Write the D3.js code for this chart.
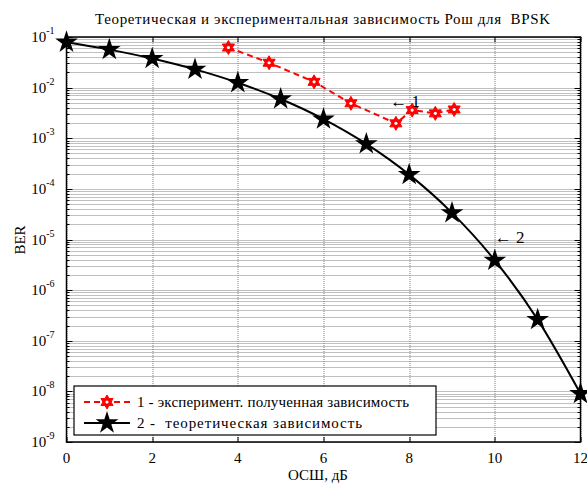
<!DOCTYPE html>
<html>
<head>
<meta charset="utf-8">
<script src="https://cdn.jsdelivr.net/npm/d3@7"></script>
<style>
  body { margin: 0; background: #fff; }
  text { font-family: "Liberation Serif", "Times New Roman", serif; fill: #000; white-space: pre; }
</style>
</head>
<body>
<svg id="chart" width="587" height="483"></svg>
<script>
// Data
const snrTheory = [0, 1, 2, 3, 4, 5, 6, 7, 8, 9, 10, 11, 12];
const berTheory = [7.86e-2, 5.63e-2, 3.75e-2, 2.29e-2, 1.25e-2, 5.95e-3, 2.39e-3,
                   7.73e-4, 1.91e-4, 3.36e-5, 3.87e-6, 2.61e-7, 9.0e-9];
const snrExp = [3.78, 4.73, 5.78, 6.64, 7.69, 8.07, 8.61, 9.05];
const berExp = [6.2e-2, 3.1e-2, 1.3e-2, 4.9e-3, 1.97e-3, 3.6e-3, 3.1e-3, 3.7e-3];
const xTicks = [0, 2, 4, 6, 8, 10, 12];
const yDecades = [-9, -8, -7, -6, -5, -4, -3, -2, -1];
const legendLabels = ['1 - эксперимент. полученная зависимость', '2 -  теоретическая зависимость'];

const svg = d3.select('#chart');
const margin = { top: 37, left: 66.5, right: 6.5, bottom: 41 };
const width = 587 - margin.left - margin.right;
const height = 483 - margin.top - margin.bottom;

const x = d3.scaleLinear().domain([0, 12]).range([0, width]);
const y = d3.scaleLog().domain([1e-9, 1e-1]).range([height, 0]);

const g = svg.append('g').attr('transform', `translate(${margin.left},${margin.top})`);

// minor values for log grid
const minorVals = [];
yDecades.forEach(e => {
  if (e === -1) return;
  for (let k = 2; k <= 9; k++) minorVals.push(k * Math.pow(10, e));
});
const majorVals = yDecades.map(e => Math.pow(10, e));

// Grid
const grid = g.append('g').attr('stroke', '#808080').attr('stroke-width', 1).attr('stroke-dasharray', '1,1');
grid.selectAll('line.hy').data(minorVals.concat(majorVals)).join('line')
  .attr('x1', 0).attr('x2', width)
  .attr('y1', d => Math.round(y(d)) + 0.5).attr('y2', d => Math.round(y(d)) + 0.5);
grid.selectAll('line.vx').data(xTicks).join('line')
  .attr('y1', 0).attr('y2', height)
  .attr('x1', d => Math.round(x(d)) + 0.5).attr('x2', d => Math.round(x(d)) + 0.5);

// Ticks (inside, on all four sides)
const tk = g.append('g').attr('stroke', '#000').attr('stroke-width', 1);
xTicks.forEach(v => {
  const px = Math.round(x(v)) + 0.5;
  tk.append('line').attr('x1', px).attr('x2', px).attr('y1', height).attr('y2', height - 5);
  tk.append('line').attr('x1', px).attr('x2', px).attr('y1', 0).attr('y2', 5);
});
majorVals.forEach(v => {
  const py = Math.round(y(v)) + 0.5;
  tk.append('line').attr('x1', 0).attr('x2', 6).attr('y1', py).attr('y2', py);
  tk.append('line').attr('x1', width).attr('x2', width - 6).attr('y1', py).attr('y2', py);
});
minorVals.forEach(v => {
  const py = Math.round(y(v)) + 0.5;
  tk.append('line').attr('x1', 0).attr('x2', 3).attr('y1', py).attr('y2', py);
  tk.append('line').attr('x1', width).attr('x2', width - 3).attr('y1', py).attr('y2', py);
});

// Frame
g.append('rect').attr('x', 0).attr('y', 0).attr('width', width).attr('height', height)
  .attr('fill', 'none').attr('stroke', '#000').attr('stroke-width', 1.5);

// X tick labels
g.append('g').selectAll('text').data(xTicks).join('text')
  .attr('x', d => x(d)).attr('y', height + 21)
  .attr('text-anchor', 'middle').style('font-size', '15px')
  .text(d => d);

// Y tick labels with superscript
const yl = g.append('g').selectAll('text').data(yDecades).join('text')
  .attr('x', -12).attr('y', d => y(Math.pow(10, d)) + 5)
  .attr('text-anchor', 'end').style('font-size', '15px');
yl.append('tspan').text('10');
yl.append('tspan').attr('dy', -8).style('font-size', '10px').text(d => d);

// Title and axis labels
svg.append('text').attr('x', 95).attr('y', 24)
  .attr('textLength', 455).attr('lengthAdjust', 'spacing')
  .style('font-size', '15px').text('Теоретическая и экспериментальная зависимость Рош для  BPSK');
svg.append('text').attr('x', 318).attr('y', 480).attr('text-anchor', 'middle')
  .style('font-size', '15px').text('ОСШ, дБ');
svg.append('text').attr('transform', 'translate(25,240) rotate(-90)').attr('text-anchor', 'middle')
  .style('font-size', '15px').text('BER');

// Markers
const pentagram = d3.symbol().type(d3.symbolStar).size(160);
function hexagram(r) {
  const pts = [];
  for (let i = 0; i < 12; i++) {
    const a = -Math.PI / 2 + i * Math.PI / 6;
    const rr = i % 2 === 0 ? r : r * 0.577;
    pts.push([rr * Math.cos(a), rr * Math.sin(a)]);
  }
  return 'M' + pts.map(p => p.join(',')).join('L') + 'Z';
}

// Theory curve
const theory = snrTheory.map((s, i) => ({ x: s, y: berTheory[i] }));
const exper = snrExp.map((s, i) => ({ x: s, y: berExp[i] }));
const line = d3.line().x(d => x(d.x)).y(d => y(d.y));

g.append('path').datum(theory)
  .attr('d', line.curve(d3.curveMonotoneX))
  .attr('fill', 'none').attr('stroke', '#000').attr('stroke-width', 2);
g.append('path').datum(exper)
  .attr('d', d3.line().x(d => x(d.x)).y(d => y(d.y)))
  .attr('fill', 'none').attr('stroke', '#ff0000').attr('stroke-width', 2).attr('stroke-dasharray', '6,4');

g.selectAll('path.star').data(theory).join('path')
  .attr('transform', d => `translate(${x(d.x)},${y(d.y)})`)
  .attr('d', pentagram).attr('fill', '#000');
const hx = g.selectAll('g.hex').data(exper).join('g')
  .attr('transform', d => `translate(${x(d.x)},${y(d.y)})`);
hx.append('path').attr('d', hexagram(7)).attr('fill', '#ff0000').attr('stroke', '#ff0000').attr('stroke-width', 1);
hx.append('circle').attr('r', 1.6).attr('fill', '#fff');

// Annotations
g.append('text').attr('x', x(7.56)).attr('y', y(5.2e-3) + 5).style('font-size', '17px').text('← 1');
g.append('text').attr('x', x(10.0)).attr('y', y(1.05e-5) + 5).style('font-size', '17px').text('← 2');

// Legend
const lg = svg.append('g').attr('transform', 'translate(74,386)');
lg.append('rect').attr('x', 0).attr('y', 0).attr('width', 362).attr('height', 49)
  .attr('fill', '#fff').attr('stroke', '#000').attr('stroke-width', 1.2);
lg.append('line').attr('x1', 10).attr('x2', 56).attr('y1', 16).attr('y2', 16)
  .attr('stroke', '#ff0000').attr('stroke-width', 2).attr('stroke-dasharray', '6,4');
const lh = lg.append('g').attr('transform', 'translate(33,16)');
lh.append('path').attr('d', hexagram(7)).attr('fill', '#ff0000').attr('stroke', '#ff0000');
lh.append('circle').attr('r', 1.6).attr('fill', '#fff');
lg.append('line').attr('x1', 10).attr('x2', 56).attr('y1', 37).attr('y2', 37)
  .attr('stroke', '#000').attr('stroke-width', 2);
lg.append('path').attr('transform', 'translate(33,37)').attr('d', pentagram).attr('fill', '#000');
const legendWidths = [272, 225];
lg.selectAll('text.lbl').data(legendLabels).join('text')
  .attr('x', 63).attr('y', (d, i) => 21 + i * 21)
  .attr('textLength', (d, i) => legendWidths[i]).attr('lengthAdjust', 'spacing')
  .style('font-size', '15px').text(d => d);
</script>
</body>
</html>
